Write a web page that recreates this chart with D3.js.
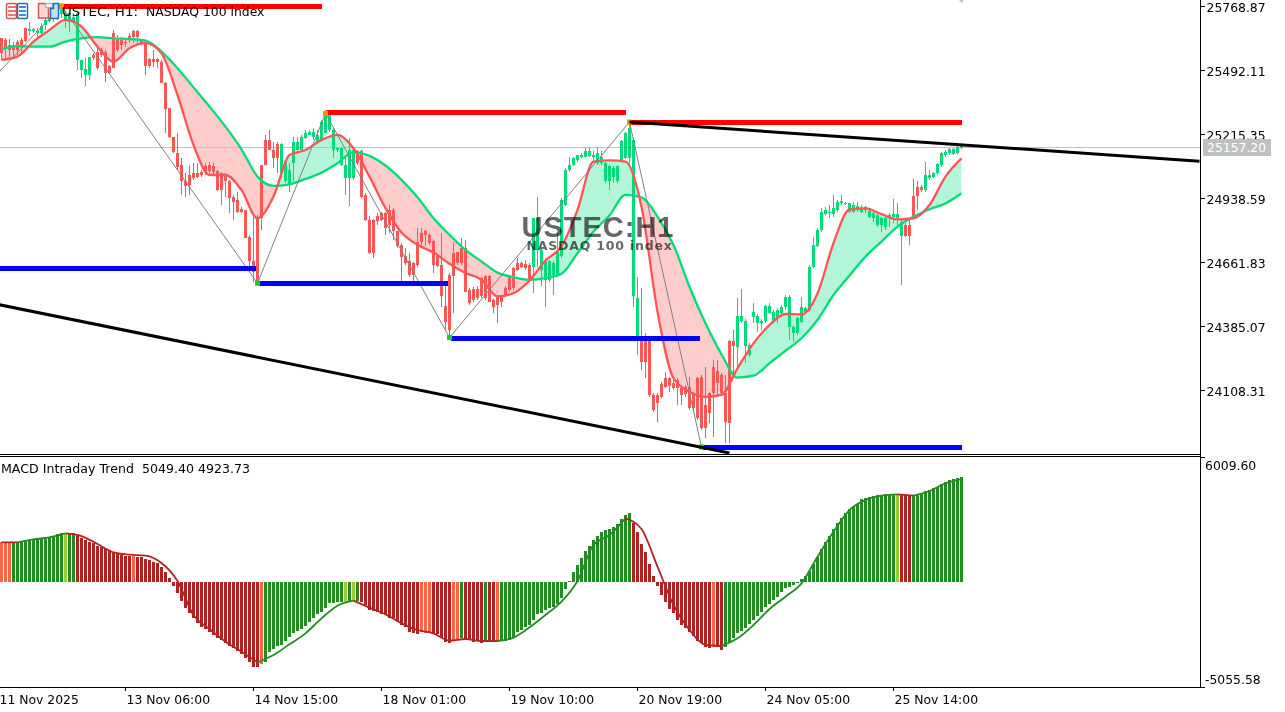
<!DOCTYPE html>
<html><head><meta charset="utf-8">
<script src="https://cdn.jsdelivr.net/npm/d3@7"></script>
<style>
html,body{margin:0;padding:0;background:#fff;overflow:hidden}
svg{display:block}
text{font-family:"DejaVu Sans",sans-serif;fill:#000}
</style></head><body>
<svg id="c" width="1285" height="712"></svg>
<script>
// ---------- price pane data (one entry per hourly bar) ----------
const bodyTop=[25629,25622,25600,25593,25615,25622,25672,25670,25670,25662,25683,25709,25716,25723,25737,25759,25737,25737,25723,25737,
25536,25495,25550,25557,25572,25579,25572,25510,25651,25622,25622,25615,25639,25662,25662,25622,25608,25538,25538,25538,
25528,25435,25327,25201,25132,25082,25010,25038,25046,25048,25053,25079,25082,25079,25057,25046,25038,25010,24945,24930,
24890,24887,24772,24664,24858,25082,25190,25190,25146,25172,25172,25096,25060,25182,25182,25204,25218,25226,25226,25211,
25269,25298,25298,25233,25154,25154,25082,25147,25147,25140,25140,24952,24844,24844,24859,24873,24873,24887,24887,24794,
24736,24686,24664,24657,24750,24789,24794,24779,24753,24686,24650,24472,24606,24700,24703,24722,24722,24541,24544,24544,
24592,24602,24602,24498,24513,24513,24549,24599,24635,24657,24657,24652,24650,24851,24851,24714,24671,24664,24657,24714,
24931,25060,25082,25111,25125,25125,25140,25140,25125,25132,25118,25089,25075,25068,25075,25183,25219,25240,25190,24505,
24325,24325,24325,24087,24087,24134,24159,24159,24140,24152,24116,24123,24123,24094,24159,24166,24044,24094,24209,24192,
24173,24094,24320,24320,24428,24428,24408,24303,24447,24428,24408,24472,24472,24447,24454,24469,24512,24512,24382,24418,
24469,24461,24642,24735,24800,24879,24887,24879,24894,24923,24927,24918,24915,24908,24904,24901,24898,24882,24875,24865,
24851,24851,24865,24869,24869,24836,24822,24822,24947,24985,24988,25038,25038,25045,25084,25135,25139,25149,25149,25158,25163];
const bodyBottom=[25564,25586,25579,25579,25579,25593,25619,25662,25662,25654,25651,25687,25706,25711,25720,25734,25709,25701,25701,25536,
25492,25471,25471,25543,25500,25557,25481,25481,25500,25579,25600,25608,25622,25634,25634,25608,25510,25510,25528,25528,
25435,25322,25201,25139,25074,25010,24991,24995,25024,25028,25038,25053,25056,25053,24973,24973,25010,24937,24923,24880,
24880,24764,24664,24620,24577,24851,25082,25146,25110,25110,25046,25010,24995,25089,25146,25146,25197,25211,25204,25182,
25190,25218,25233,25147,25146,25082,25024,25024,25024,25089,24945,24844,24700,24700,24837,24844,24808,24823,24794,24729,
24683,24657,24606,24606,24650,24750,24779,24743,24650,24645,24513,24404,24368,24602,24657,24657,24534,24484,24498,24505,
24513,24505,24491,24469,24477,24491,24520,24541,24549,24628,24642,24635,24585,24642,24714,24628,24585,24585,24606,24606,
24686,24909,25060,25082,25103,25118,25118,25121,25115,25089,25089,25010,25010,25031,25010,25103,25111,25111,24513,24339,
24231,24231,24087,24022,24054,24079,24123,24126,24116,24116,24087,24091,24029,24029,23986,23943,23943,24007,24094,24137,
24094,23971,23967,24299,24296,24408,24299,24260,24425,24397,24397,24408,24443,24408,24418,24440,24469,24382,24353,24356,
24404,24447,24454,24639,24731,24800,24869,24872,24869,24887,24918,24915,24879,24879,24887,24879,24887,24858,24851,24822,
24822,24815,24851,24858,24851,24774,24774,24774,24861,24947,24973,24973,25024,25031,25045,25081,25125,25132,25129,25132,25153];
const wickHigh=[25629,25629,25625,25615,25622,25629,25672,25698,25672,25672,25694,25716,25723,25737,25752,25769,25745,25745,25740,25745,
25536,25543,25550,25564,25593,25586,25579,25514,25665,25644,25636,25629,25651,25665,25665,25625,25615,25543,25579,25543,
25536,25442,25327,25204,25218,25110,25046,25082,25089,25089,25060,25089,25096,25089,25060,25053,25046,25017,24952,24966,
24901,24887,24779,24858,24865,25082,25211,25233,25182,25182,25175,25103,25089,25204,25204,25211,25233,25233,25240,25233,
25276,25305,25305,25240,25161,25161,25125,25197,25154,25147,25147,24959,24859,24847,24873,24880,24876,24909,24895,24797,
24743,24722,24700,24660,24808,24808,24801,24786,24758,24693,24786,24570,24613,24750,24707,24765,24758,24549,24552,24556,
24599,24606,24606,24501,24516,24520,24556,24606,24642,24678,24664,24671,24657,24851,24945,24722,24678,24671,24664,24786,
24938,25067,25118,25118,25125,25132,25154,25161,25140,25161,25140,25096,25082,25075,25082,25190,25226,25267,25197,24598,
24548,24353,24332,24094,24094,24144,24188,24166,24152,24159,24123,24130,24166,24101,24166,24173,24209,24101,24238,24238,
24180,24173,24325,24368,24505,24545,24414,24310,24483,24437,24414,24476,24483,24454,24461,24476,24519,24519,24389,24425,
24512,24469,24649,24771,24807,24894,24898,24908,24951,24930,24951,24923,24918,24923,24923,24908,24904,24894,24887,24872,
24858,24858,24872,24933,24915,24843,24829,24851,25019,25012,24995,25096,25060,25052,25088,25139,25146,25156,25156,25163,25168];
const wickLow=[25536,25543,25550,25550,25557,25564,25615,25644,25651,25634,25644,25665,25701,25701,25709,25716,25672,25658,25694,25492,
25456,25423,25449,25536,25492,25550,25442,25475,25500,25572,25579,25593,25608,25608,25608,25600,25471,25500,25507,25500,
25435,25218,25197,25132,25060,24952,24945,24952,25017,25024,25031,25038,25046,25038,24971,24909,24945,24873,24844,24873,
24873,24764,24620,24577,24570,24801,25082,25146,25067,25046,25024,25002,24966,25010,25139,25146,25193,25211,25190,25175,
25190,25218,25226,25110,25139,25075,24952,24902,25017,25082,24938,24837,24697,24678,24823,24837,24779,24786,24758,24722,
24577,24650,24599,24556,24642,24729,24729,24736,24613,24642,24469,24368,24335,24441,24650,24650,24530,24477,24491,24498,
24505,24498,24488,24441,24397,24469,24513,24534,24541,24621,24635,24628,24577,24527,24642,24556,24469,24577,24520,24599,
24678,24902,25053,25075,25096,25111,25115,25118,25089,25082,25082,25003,24974,25003,25003,25096,25106,25082,24469,24260,
24195,24159,24079,24015,23971,24072,24116,24101,24108,24044,24044,24079,24022,24022,23979,23935,23899,23964,23907,24087,
24087,23878,23878,24166,24202,24397,24224,24253,24397,24361,24368,24397,24437,24397,24397,24425,24454,24324,24317,24346,
24397,24440,24447,24634,24728,24793,24865,24851,24858,24879,24908,24908,24872,24872,24879,24872,24872,24851,24836,24815,
24793,24800,24815,24829,24822,24562,24771,24735,24858,24887,24966,24966,25016,25024,25038,25074,25117,25125,25125,25127,25149];
const trendStart=[0,7,23,70,89,133,160,184,226,231];
const trendName=["down","up","down","up","down","up","down","up","down","up"];
// moving averages read at every fourth bar
const maStep=4;
const fastMA=[25536,25550,25615,25665,25709,25680,25593,25528,25586,25608,25564,25384,25168,25038,25038,24973,24851,24945,25125,25146,25190,25212,25154,25031,24895,24789,24736,24703,24654,24614,24585,24513,24527,24582,24668,24729,24887,25096,25101,25096,24901,24447,24159,24101,24079,24087,24202,24310,24389,24437,24435,24526,24743,24889,24894,24869,24846,24851,24908,25031,25110];
const slowMA=[25582,25596,25593,25593,25615,25629,25634,25629,25626,25619,25572,25500,25417,25334,25247,25149,25031,24991,24998,25021,25048,25089,25137,25121,25079,25017,24942,24851,24779,24714,24664,24616,24596,24585,24592,24611,24700,24794,24863,24952,24941,24858,24735,24555,24397,24263,24162,24170,24224,24278,24332,24411,24519,24603,24685,24750,24815,24858,24890,24915,24959];
// zigzag pivots (bar index, price)
const zigBars=[-2,15,64,81,112,157,175];
const zigPrices=[25458,25769,24570,25305,24335,25267,23862];
// support / resistance levels (from bar, to bar, price)
const resFrom=[15,81,157], resTo=[80,156,240], resPrice=[25767,25308,25266];
const supFrom=[0,64,112,175], supTo=[63.6,111.5,174.5,240], supPrice=[24635,24570,24332,23858];
// trend channel (bar index, price)
const upperBars=[157,299.5], upperPrices=[25267,25098];
const lowerBars=[-2,182], lowerPrices=[24482,23836];
const priceTicks=[25768.87,25492.11,25215.35,24938.59,24661.83,24385.07,24108.31];
const lastPrice=25157.20;
// ---------- MACD pane data ----------
const macdHist=[1888,1888,1888,1920,1888,1920,1952,2000,2032,2048,2080,2080,2112,2192,2272,2352,2304,2352,2352,2240,
2080,2000,1888,1840,1728,1648,1568,1520,1392,1312,1280,1248,1248,1248,1200,1200,1088,1040,960,880,
720,480,192,-192,-528,-928,-1248,-1488,-1760,-1968,-2160,-2272,-2400,-2560,-2720,-2800,-2960,-3072,-3200,-3328,
-3472,-3648,-3872,-4112,-4112,-3968,-3840,-3360,-3248,-3088,-3040,-2848,-2640,-2480,-2368,-2272,-2112,-1920,-1760,-1568,
-1440,-1248,-1040,-1040,-960,-960,-992,-960,-928,-912,-960,-1120,-1360,-1408,-1472,-1568,-1600,-1728,-1728,-1888,
-2080,-2160,-2400,-2480,-2512,-2400,-2448,-2448,-2496,-2528,-2688,-2880,-2928,-2800,-2800,-2720,-2800,-2800,-2880,-2848,
-2928,-2880,-2880,-2880,-2880,-2848,-2848,-2816,-2640,-2400,-2320,-2160,-2080,-1840,-1568,-1520,-1360,-1280,-1232,-1072,
-800,-352,32,480,800,1152,1472,1712,2000,2192,2368,2480,2528,2640,2768,3008,3200,3280,2800,2400,
1824,1408,848,288,-192,-640,-960,-1312,-1520,-1840,-2080,-2240,-2400,-2608,-2848,-2960,-3120,-3168,-3120,-3120,
-3280,-3120,-2960,-2720,-2480,-2368,-2240,-2032,-1840,-1648,-1440,-1232,-1072,-880,-720,-512,-320,-240,-160,-80,
128,288,528,832,1200,1568,1920,2192,2528,2800,3040,3280,3488,3600,3728,3968,4032,4080,4128,4160,
4160,4192,4192,4192,4192,4192,4160,4128,4160,4160,4240,4352,4400,4480,4560,4672,4768,4880,4928,4992,5049];
const histRunStart=[0,3,16,17,19,33,34,65,66,86,87,88,89,90,105,108,113,115,116,121,122,124,125,158,178,179,181,224,225,228];
const histRunColor=["tomato","green","lime","green","red","tomato","red","tomato","green","lime","green","lime","green","red","tomato","red","tomato","green","red","green","red","tomato","green","red","tomato","red","green","lime","red","green"];
const macdSignal=[1888,1888,2032,2128,2320,2192,1808,1408,1296,1248,896,32,-1600,-2272,-2880,-3360,-3872,-3520,-3008,-2480,-1760,-1152,-912,-1248,-1568,-2000,-2320,-2480,-2832,-2752,-2848,-2848,-2688,-2192,-1600,-960,32,1760,2240,3040,2528,720,-1120,-2320,-3040,-3088,-2720,-2080,-1312,-720,-80,1200,2400,3440,3920,4128,4192,4128,4352,4720,4924];
const sigRunStart=[0,1,4,16,22,31,39,45,56,57];
const sigRunColor=["red","green","red","green","red","green","red","green","red","green"];
const macdTicks=[6009.60,-5055.58];
// ---------- time axis ----------
const timeBars=[-1,31,63,95,127,159,191,223];
const timeLabels=["11 Nov 2025","13 Nov 06:00","14 Nov 15:00","18 Nov 01:00","19 Nov 10:00","20 Nov 19:00","24 Nov 05:00","25 Nov 14:00"];

const W=1285,H=712,axisX=1200.5,mainBottom=454.5,subTop=456.5,subBottom=687;
const barColors={up:"#00dc78",down:"#ff5555"};
const histColors={tomato:"#ff6347",green:"#228b22",lime:"#9acd32",red:"#b22222"};
const svg=d3.select("#c");
const x=d3.scaleLinear().domain([0,240]).range([1.5,961.5]);
const y=d3.scaleLinear().domain([priceTicks[0],priceTicks[6]]).range([6,390]);
const yM=d3.scaleLinear().domain([-5055.58,6009.60]).range([subBottom,subTop]);
const defs=svg.append("defs");
defs.append("clipPath").attr("id","mainClip").append("rect").attr("x",0).attr("y",0).attr("width",axisX).attr("height",mainBottom);
const idx=d3.range(bodyTop.length);
const maIdx=fastMA.map((_,k)=>k*maStep);
const root=svg.append("g").attr("clip-path","url(#mainClip)");

// filled bands between the two averages
const curve=d3.curveMonotoneX;
defs.append("clipPath").attr("id","aboveSlow").append("path").attr("d",d3.area().curve(curve).x(i=>x(i)).y0(0).y1((i,k)=>y(slowMA[k]))(maIdx));
defs.append("clipPath").attr("id","belowSlow").append("path").attr("d",d3.area().curve(curve).x(i=>x(i)).y0(mainBottom).y1((i,k)=>y(slowMA[k]))(maIdx));
const band=d3.area().curve(curve).x(i=>x(i)).y0((i,k)=>y(fastMA[k])).y1((i,k)=>y(slowMA[k]));
root.append("path").attr("d",band(maIdx)).attr("fill","#b2f5d8").attr("clip-path","url(#aboveSlow)");
root.append("path").attr("d",band(maIdx)).attr("fill","#ffcccc").attr("clip-path","url(#belowSlow)");

// last price line
root.append("line").attr("x1",0).attr("x2",axisX).attr("y1",Math.round(y(lastPrice))+.5).attr("y2",Math.round(y(lastPrice))+.5).attr("stroke","#c0c0c0");

// candles
const trendOf=i=>trendName[d3.bisectRight(trendStart,i)-1];
const candles=root.append("g").attr("shape-rendering","crispEdges");
candles.selectAll("line").data(idx).join("line")
 .attr("x1",i=>x(i)).attr("x2",i=>x(i)).attr("y1",i=>y(wickHigh[i])).attr("y2",i=>y(wickLow[i]))
 .attr("stroke",i=>barColors[trendOf(i)]);
candles.selectAll("rect").data(idx).join("rect")
 .attr("x",i=>x(i)-1.5).attr("width",3).attr("y",i=>y(bodyTop[i])).attr("height",i=>Math.max(1,y(bodyBottom[i])-y(bodyTop[i])))
 .attr("fill",i=>barColors[trendOf(i)]);

// averages
const maLine=s=>d3.line().curve(curve).x(i=>x(i)).y((i,k)=>y(s[k]))(maIdx);
root.append("path").attr("d",maLine(slowMA)).attr("fill","none").attr("stroke","#00dc78").attr("stroke-width",2.3);
root.append("path").attr("d",maLine(fastMA)).attr("fill","none").attr("stroke","#ff5555").attr("stroke-width",2.3);

// zigzag
root.append("path").attr("d",d3.line().x(i=>x(i)).y((i,k)=>y(zigPrices[k]))(zigBars)).attr("fill","none").attr("stroke","#808080").attr("stroke-width",1);

// instrument caption sits under icons and levels
svg.append("text").attr("x",62).attr("y",16).attr("font-size",12.4).attr("textLength",76).attr("lengthAdjust","spacingAndGlyphs").text("USTEC, H1:");
svg.append("text").attr("x",146).attr("y",16).attr("font-size",12.4).text("NASDAQ 100 index");

// levels
const lvl=root.append("g").attr("shape-rendering","crispEdges");
resFrom.forEach((f,k)=>lvl.append("line").attr("x1",x(f)).attr("x2",x(resTo[k])).attr("y1",y(resPrice[k])).attr("y2",y(resPrice[k])).attr("stroke","#ff0000").attr("stroke-width",5));
supFrom.forEach((f,k)=>lvl.append("line").attr("x1",f===0?0:x(f)+1).attr("x2",x(supTo[k])).attr("y1",y(supPrice[k])).attr("y2",y(supPrice[k])).attr("stroke","#0000ff").attr("stroke-width",5));

// pivots
zigBars.slice(1).forEach((b,k)=>{
  const top=zigPrices[k+1]>zigPrices[k];
  root.append("rect").attr("x",x(b)-2.5).attr("y",y(zigPrices[k+1])-2.5).attr("width",5).attr("height",5).attr("fill",top?"#ff8c00":"#00e000");
});

// trend channel
[[upperBars,upperPrices],[lowerBars,lowerPrices]].forEach(([b,p])=>{
  root.append("path").attr("d",d3.line().x(i=>x(i)).y((i,k)=>y(p[k]))(b)).attr("fill","none").attr("stroke","#000").attr("stroke-width",3);
});

// watermark
const wm=svg.append("g").style("mix-blend-mode","multiply");
wm.append("text").attr("x",598).attr("y",237).attr("text-anchor","middle").style("font-family","'Liberation Sans'").style("font-weight","bold").style("font-size","29px").style("letter-spacing","1px").style("fill","#666").text("USTEC:H1");
wm.append("text").attr("x",599.5).attr("y",250).attr("text-anchor","middle").style("font-family","'DejaVu Sans'").style("font-weight","bold").style("font-size","12.5px").style("letter-spacing","0.8px").style("fill","#666").text("NASDAQ 100 index");

// toolbar icons
const ic=svg.append("g");
const r=(a,b,w,h,f,s,rx)=>ic.append("rect").attr("x",a).attr("y",b).attr("width",w).attr("height",h).attr("fill",f).attr("stroke",s||"none").attr("stroke-width",1.5).attr("rx",rx||0);
r(6.5,3.5,10,15,"#fff","#d9534f",1.5);r(17.5,3.5,10,15,"#fff","#1f6fb2",1.5);
[6,10,14].forEach(b=>{r(8,b,8,2,"#e8766f");r(19,b,7,2,"#3f8fd0");});
ic.append("path").attr("d","M38.5 3.5h7l2 4h1v10.5h-10z").attr("fill","#ffd9d4").attr("stroke","#d9534f").attr("stroke-width",1.5);
r(45.5,3.5,7,4,"#fff","#b0b0b0",1);
ic.append("path").attr("d","M50.5 8.5h3v-5h5v14a1 1 0 0 1-1 1h-7z").attr("fill","#bfe3fa").attr("stroke","#1f6fb2").attr("stroke-width",1.5);
svg.append("path").attr("d",d3.line()([[959,0],[964,0],[961.5,3]])).attr("fill","#c0c0c0");

// MACD pane
const sub=svg.append("g");
sub.append("g").attr("shape-rendering","crispEdges").selectAll("rect").data(idx).join("rect")
 .attr("x",i=>x(i)-1.5).attr("width",3)
 .attr("y",i=>Math.min(yM(0),yM(macdHist[i]))).attr("height",i=>Math.max(1,Math.abs(yM(macdHist[i])-yM(0))))
 .attr("fill",i=>histColors[histRunColor[d3.bisectRight(histRunStart,i)-1]]);
const sigLine=d3.line().curve(curve).x(d=>x(d.i)).y(d=>yM(d.v));
const sigPts=macdSignal.map((v,k)=>({i:k*maStep,v}));
sigRunStart.forEach((s,n)=>{
  const e=n+1<sigRunStart.length?sigRunStart[n+1]:sigPts.length-1;
  sub.append("path").attr("d",sigLine(sigPts.slice(s,e+1))).attr("fill","none").attr("stroke",histColors[sigRunColor[n]]).attr("stroke-width",1.8);
});
svg.append("text").attr("x",1).attr("y",473).attr("font-size",12.6).style("white-space","pre").text("MACD Intraday Trend  5049.40 4923.73");

// frame and axes
const frame=svg.append("g").attr("stroke","#000").attr("shape-rendering","crispEdges");
[[0,mainBottom,axisX,mainBottom],[0,subTop,axisX,subTop],[0,subBottom,axisX,subBottom],[axisX,0,axisX,subBottom]].forEach(d=>
 frame.append("line").attr("x1",d[0]).attr("y1",d[1]).attr("x2",d[2]).attr("y2",d[3]));

const fmt=d=>d3.format(".2f")(d).replace("\u2212","-");
const styleAxis=g=>{g.select(".domain").remove();g.selectAll("line").attr("stroke","#000").attr("shape-rendering","crispEdges");g.selectAll("text").style("font-family","'DejaVu Sans'").style("font-size","12.4px").style("fill","#000");};
const ay=svg.append("g").attr("transform",`translate(${axisX},0)`).call(d3.axisRight(y).tickValues(priceTicks).tickFormat(fmt).tickSize(4).tickPadding(2)).call(styleAxis);
ay.selectAll("text").attr("dy",null).attr("dominant-baseline","central").attr("transform","translate(0,1)");
const am=svg.append("g").attr("transform",`translate(${axisX},0)`).call(d3.axisRight(yM).tickValues(macdTicks).tickFormat(fmt).tickSize(4).tickPadding(2)).call(styleAxis);
am.selectAll("text").attr("dy",null).attr("dominant-baseline","central").attr("transform",d=>d>0?"translate(-1.5,8.5)":"translate(-1.5,-8)");
const xT=d3.scaleLinear().domain([0,240]).range([1,961]);
const ax=svg.append("g").attr("transform",`translate(0,${subBottom})`).call(d3.axisBottom(xT).tickValues(timeBars).tickFormat((d,i)=>timeLabels[i]).tickSize(4).tickPadding(3)).call(styleAxis);
ax.selectAll("text").attr("text-anchor","start").attr("x",1).attr("dy","0.8em");
ax.select("g.tick text").attr("x",2);

// last price tag
const ty=Math.round(y(lastPrice));
svg.append("rect").attr("x",1203).attr("y",ty-8).attr("width",68).attr("height",17).attr("fill","#c0c0c0");
svg.append("text").attr("x",1207).attr("y",ty+4.5).attr("font-size",12.4).style("fill","#fff").text(d3.format(".2f")(lastPrice));
</script></body></html>
